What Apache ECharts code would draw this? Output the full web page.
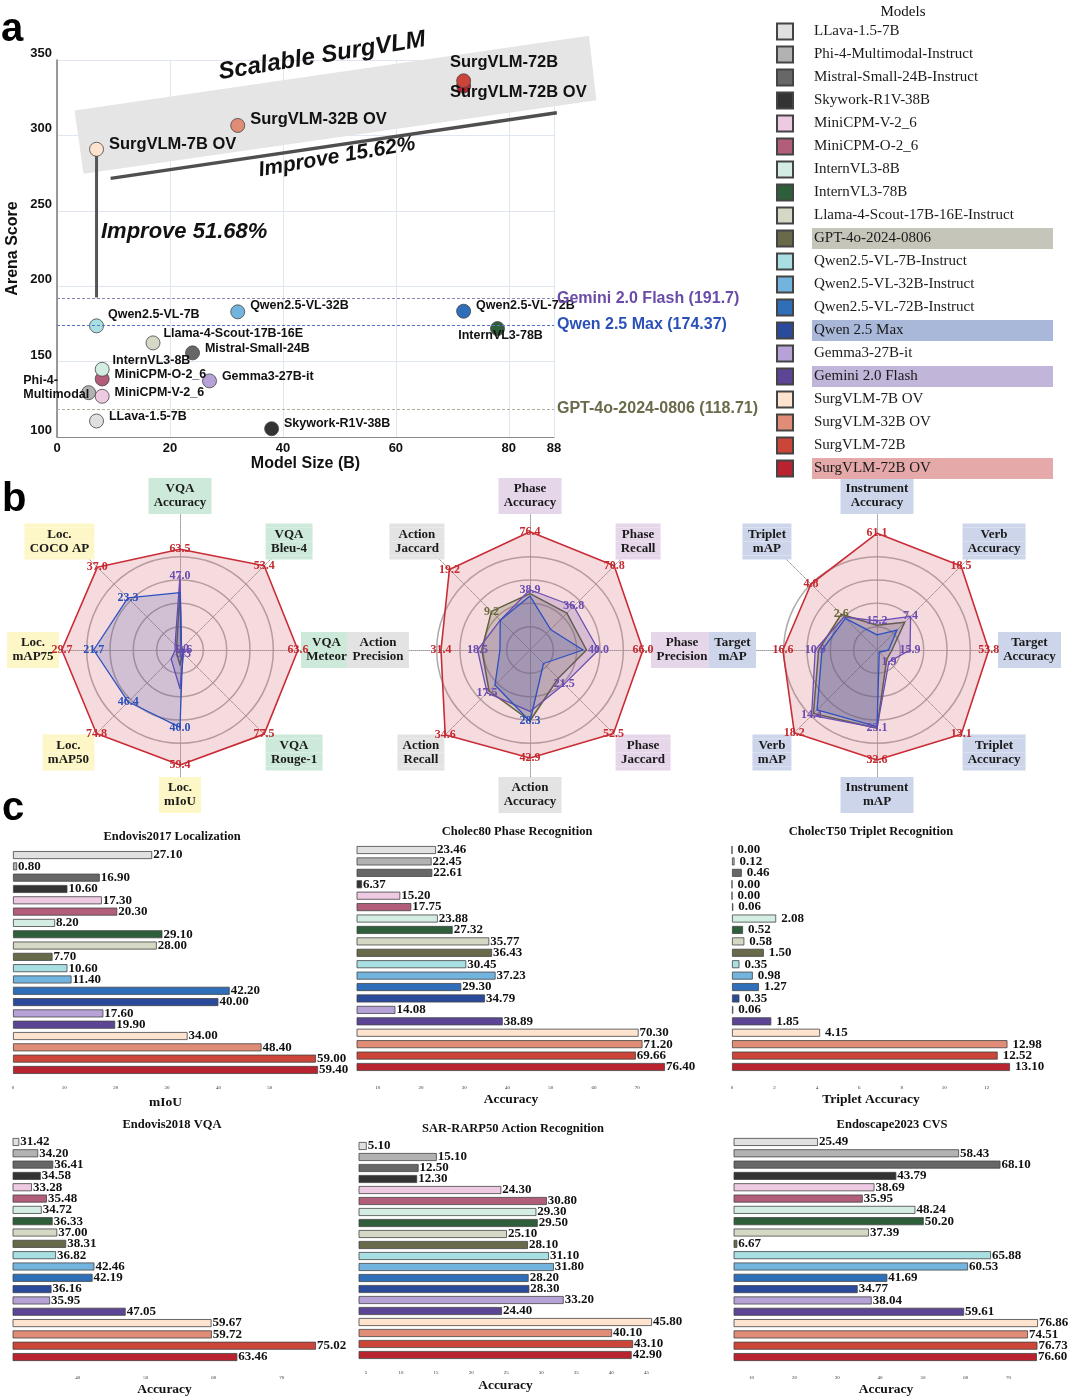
<!DOCTYPE html>
<html><head><meta charset="utf-8">
<script src="https://cdn.jsdelivr.net/npm/echarts@6/dist/echarts.min.js"></script>
<style>html,body{margin:0;padding:0;background:#fff}#c{width:1072px;height:1398px}</style>
</head><body><div id="c"></div>
<script>
// ---------------- DATA ----------------
const models = ['LLava-1.5-7B','Phi-4-Multimodal-Instruct','Mistral-Small-24B-Instruct','Skywork-R1V-38B','MiniCPM-V-2_6','MiniCPM-O-2_6','InternVL3-8B','InternVL3-78B','Llama-4-Scout-17B-16E-Instruct','GPT-4o-2024-0806','Qwen2.5-VL-7B-Instruct','Qwen2.5-VL-32B-Instruct','Qwen2.5-VL-72B-Instruct','Qwen 2.5 Max','Gemma3-27B-it','Gemini 2.0 Flash','SurgVLM-7B OV','SurgVLM-32B OV','SurgVLM-72B','SurgVLM-72B OV'];
const modelColors = ['#e0e0e0','#b2b2b2','#676767','#333333','#eecae2','#b25e7a','#d3ede2','#2f5f3a','#d6d8c6','#696a4a','#a8dfe2','#72b4de','#2f6fba','#2a4b9c','#b6a2d6','#5d4596','#fee3cf','#e08c76','#cb4538','#b8232f'];

// panel a: scatter
const scatterLabels = ['LLava-1.5-7B','Phi-4-\nMultimodal','Mistral-Small-24B','Skywork-R1V-38B','MiniCPM-V-2_6','MiniCPM-O-2_6','InternVL3-8B','InternVL3-78B','Llama-4-Scout-17B-16E',null,'Qwen2.5-VL-7B','Qwen2.5-VL-32B','Qwen2.5-VL-72B',null,'Gemma3-27B-it',null,'SurgVLM-7B OV','SurgVLM-32B OV','SurgVLM-72B','SurgVLM-72B OV'];
const modelSizeB = [7,5.6,24,38,8,8,8,78,17,null,7,32,72,null,27,null,7,32,72,72];
const arenaScore = [110.6,129.4,155.8,105.5,127.0,138.5,144.9,171.9,162.4,null,173.7,183.0,183.4,null,137.2,null,290.8,306.6,336.2,332.7];
const refModels = ['GPT-4o-2024-0806','Qwen 2.5 Max','Gemini 2.0 Flash'];
const refScores = [118.71,174.37,191.7];
const bandX = [3.1,94.2,95.5,4.7];
const bandY = [316.5,366,323.3,274.5];
const growthLine = [[9.5,271.5],[88.5,315]];
const jumpLine = [[7,287.5],[7,192.5]];

// panel b: radars (indicators listed counter-clockwise from top)
const radar1Axes = ['VQA\nAccuracy','Loc.\nCOCO AP','Loc.\nmAP75','Loc.\nmAP50','Loc.\nmIoU','VQA\nRouge-1','VQA\nMeteor','VQA\nBleu-4'];
const radar1Max = [88.3,44.3,35.2,88.7,72.3,91.2,75.5,62.8];
const radar1SurgVLM = [63.5,37.0,29.7,74.8,59.4,77.5,63.6,53.4];
const radar1GPT4o = [38.3,1.5,0.8,3.0,7.7,2.5,2.0,0.8];
const radar1Gemini = [47.0,2.2,1.2,8.0,19.9,3.3,2.6,1.0];
const radar1Qwen = [36.2,23.3,21.7,46.4,40.0,2.4,1.8,0.9];

const radar2Axes = ['Phase\nAccuracy','Action\nJaccard','Action\nPrecision','Action\nRecall','Action\nAccuracy','Phase\nJaccard','Phase\nPrecision','Phase\nRecall'];
const radar2Max = [90.4,23.6,49.4,40.4,55.6,62.3,81.8,83.3];
const radar2SurgVLM = [76.4,19.2,31.4,34.6,42.9,52.5,66.0,70.8];
const radar2GPT4o = [36.4,9.2,17.0,16.7,28.1,17.8,33.0,31.0];
const radar2Gemini = [38.9,7.1,18.5,17.5,24.4,21.5,40.0,36.8];
const radar2Qwen = [34.8,7.1,10.6,14.3,28.3,8.5,31.0,17.3];

const radar3Axes = ['Instrument\nAccuracy','Triplet\nmAP','Target\nmAP','Verb\nmAP','Instrument\nmAP','Triplet\nAccuracy','Target\nAccuracy','Verb\nAccuracy'];
const radar3Max = [73.3,7.2,24.7,21.8,41.5,15.4,67.4,21.8];
const radar3SurgVLM = [61.1,4.8,16.6,18.2,32.6,13.1,53.8,18.5];
const radar3GPT4o = [13.0,2.6,10.3,14.0,23.2,1.5,7.2,6.1];
const radar3Gemini = [15.2,2.4,10.9,14.4,23.1,1.85,15.9,7.4];
const radar3Qwen = [7.9,2.3,9.7,13.2,22.7,0.35,5.6,4.4];

// panel c: bars (one value per model, legend order)
const barTitles = ['Endovis2017 Localization','Cholec80 Phase Recognition','CholecT50 Triplet Recognition','Endovis2018 VQA','SAR-RARP50 Action Recognition','Endoscape2023 CVS'];
const barAxisNames = ['mIoU','Accuracy','Triplet Accuracy','Accuracy','Accuracy','Accuracy'];
const endovis2017 = [27.10,0.80,16.90,10.60,17.30,20.30,8.20,29.10,28.00,7.70,10.60,11.40,42.20,40.00,17.60,19.90,34.00,48.40,59.00,59.40];
const cholec80 = [23.46,22.45,22.61,6.37,15.20,17.75,23.88,27.32,35.77,36.43,30.45,37.23,29.30,34.79,14.08,38.89,70.30,71.20,69.66,76.40];
const cholecT50 = [0.00,0.12,0.46,0.00,0.00,0.06,2.08,0.52,0.58,1.50,0.35,0.98,1.27,0.35,0.06,1.85,4.15,12.98,12.52,13.10];
const endovis2018 = [31.42,34.20,36.41,34.58,33.28,35.48,34.72,36.33,37.00,38.31,36.82,42.46,42.19,36.16,35.95,47.05,59.67,59.72,75.02,63.46];
const sarRarp50 = [5.10,15.10,12.50,12.30,24.30,30.80,29.30,29.50,25.10,28.10,31.10,31.80,28.20,28.30,33.20,24.40,45.80,40.10,43.10,42.90];
const endoscape2023 = [25.49,58.43,68.10,43.79,38.69,35.95,48.24,50.20,37.39,6.67,65.88,60.53,41.69,34.77,38.04,59.61,76.86,74.51,76.73,76.60];

// ---------------- STYLE / LAYOUT ----------------
const SANS = 'Liberation Sans';
const SERIF = 'Liberation Serif';
const highlightModels = ['GPT-4o-2024-0806','Qwen 2.5 Max','Gemini 2.0 Flash','SurgVLM-72B OV'];
const highlightColors = ['#c5c5b9','#a9b7d9','#c1b5d9','#e5a9a9'];
const refLineColors = ['#b0b0a0','#5a70c4','#8c84b4'];
const refTextColors = ['#6b6b4b','#2b51b8','#6a4ba8'];

const pointLabel = {
  'LLava-1.5-7B':{pos:'right',off:[0,-4]},
  'Phi-4-Multimodal-Instruct':{pos:'left',off:[-53,-5],align:'left'},
  'Mistral-Small-24B-Instruct':{pos:'right',off:[0,-4]},
  'Skywork-R1V-38B':{pos:'right',off:[0,-5]},
  'MiniCPM-V-2_6':{pos:'right',off:[0,-4]},
  'MiniCPM-O-2_6':{pos:'right',off:[0,-4]},
  'InternVL3-8B':{pos:'right',off:[-2,-9]},
  'InternVL3-78B':{pos:'inside',off:[3,7]},
  'Llama-4-Scout-17B-16E-Instruct':{pos:'right',off:[-2,-9]},
  'Qwen2.5-VL-7B-Instruct':{pos:'right',off:[-1,-11]},
  'Qwen2.5-VL-32B-Instruct':{pos:'right',off:[0,-6]},
  'Qwen2.5-VL-72B-Instruct':{pos:'right',off:[0,-6]},
  'Gemma3-27B-it':{pos:'right',off:[0,-4]},
  'SurgVLM-7B OV':{pos:'right',off:[0,-5],big:true},
  'SurgVLM-32B OV':{pos:'right',off:[0,-6],big:true},
  'SurgVLM-72B':{pos:'right',off:[-26,-18],big:true},
  'SurgVLM-72B OV':{pos:'right',off:[-26,6],big:true}
};

const radarCenters = [[180,650],[530,650],[877,650]];
const radarStyles = {
  'SurgVLM-72B OV':{line:'#c8232d',area:'rgba(214,112,124,0.36)',label:'#c42a30',w:1.6},
  'GPT-4o-2024-0806':{line:'#5e5e3a',area:'rgba(105,105,72,0.34)',label:'#6b6b3c',w:1.5},
  'Gemini 2.0 Flash':{line:'#6b4cb5',area:'rgba(112,84,172,0.30)',label:'#6a4bb0',w:1.3},
  'Qwen 2.5 Max':{line:'#2c50c4',area:'rgba(60,80,170,0.28)',label:'#2c4fb8',w:1.3}
};
const radarLabelIdx = [
  {'SurgVLM-72B OV':[0,1,2,3,4,5,6,7],'GPT-4o-2024-0806':[],'Gemini 2.0 Flash':[0,5,6,7],'Qwen 2.5 Max':[1,2,3,4]},
  {'SurgVLM-72B OV':[0,1,2,3,4,5,6,7],'GPT-4o-2024-0806':[1],'Gemini 2.0 Flash':[0,2,3,5,6,7],'Qwen 2.5 Max':[4]},
  {'SurgVLM-72B OV':[0,1,2,3,4,5,6,7],'GPT-4o-2024-0806':[1],'Gemini 2.0 Flash':[0,2,3,4,5,6,7],'Qwen 2.5 Max':[]}
];
const groupColors = {VQA:'#cde9d9','Loc.':'#fdf6c6',Phase:'#e6d6ea',Action:'#e3e3e3'};
const radar3Color = '#cdd5ea';
// transparent spacer (px) added below (+) or above (-) each name box, per axis position
const nameSpacer = [15,46,0,-34,-6,-34,0,46];

const barLayouts = [
  {left:13,top:849.4,width:305,height:226.2,min:0,max:59.4,tx:167,ty:833,margin:10,gap:20,showMin:true,split:5},
  {left:357,top:844.3,width:308,height:228.4,min:5.2,max:76.4,tx:512,ty:828,margin:12,gap:20,showMin:false,split:5},
  {left:732,top:844.3,width:278,height:228.4,min:0,max:13.1,tx:866,ty:828,margin:12,gap:20,showMin:true,split:6},
  {left:13,top:1136.3,width:303,height:226.4,min:30.5,max:75.02,tx:167,ty:1121,margin:12,gap:20,showMin:false,split:5},
  {left:359,top:1140.5,width:293,height:220,min:4,max:45.8,tx:508,ty:1125,margin:10,gap:18,showMin:false,split:9},
  {left:734,top:1136.3,width:304,height:226.4,min:5.9,max:76.86,tx:887,ty:1121,margin:12,gap:20,showMin:false,split:6}
];
const barData = [endovis2017,cholec80,cholecT50,endovis2018,sarRarp50,endoscape2023];

// ---------------- BUILD ----------------
const chart = echarts.init(document.getElementById('c'));
const mctx = document.createElement('canvas').getContext('2d');
mctx.font = 'bold 13px ' + SERIF;

const grids = [{left:57,top:60,width:497,height:377}];
const xAxes = [{type:'value',gridIndex:0,min:0,max:88,interval:20,
  axisLine:{show:true,lineStyle:{color:'#8a8a8a',width:1.2}},axisTick:{show:false},
  splitLine:{show:true,lineStyle:{color:'#dfe6f0',width:1}},
  axisLabel:{color:'#111',fontFamily:SANS,fontWeight:'bold',fontSize:13,margin:5},
  name:'Model Size (B)',nameLocation:'middle',nameGap:16,
  nameTextStyle:{color:'#111',fontFamily:SANS,fontWeight:'bold',fontSize:16}}];
const yAxes = [{type:'value',gridIndex:0,min:100,max:350,interval:50,
  axisLine:{show:true,lineStyle:{color:'#7a7a7a',width:1.5}},axisTick:{show:false},
  splitLine:{show:true,lineStyle:{color:'#dfe6f0',width:1}},
  axisLabel:{color:'#111',fontFamily:SANS,fontWeight:'bold',fontSize:13,margin:5,verticalAlign:'bottom'},
  name:'Arena Score',nameLocation:'middle',nameGap:36,
  nameTextStyle:{color:'#111',fontFamily:SANS,fontWeight:'bold',fontSize:16}}];
const series = [];
const titles = [{text:'Models',left:898,top:0,textAlign:'center',textStyle:{fontFamily:SERIF,fontWeight:'normal',fontSize:15,color:'#111'}}];

// band + lines
series.push({type:'custom',xAxisIndex:0,yAxisIndex:0,clip:false,silent:true,z:1,data:[[bandX[0],bandY[0]]],
  renderItem:(p,api)=>({type:'polygon',shape:{points:bandX.map((x,k)=>api.coord([x,bandY[k]]))},style:{fill:'#e5e5e5'}})});
series.push({type:'line',xAxisIndex:0,yAxisIndex:0,data:growthLine,symbol:'none',silent:true,z:2,lineStyle:{color:'#4f4f4f',width:3.5}});
series.push({type:'line',xAxisIndex:0,yAxisIndex:0,data:jumpLine,symbol:'none',silent:true,z:2,lineStyle:{color:'#555',width:3}});

models.forEach((m,i)=>{
  const s = {type:'scatter',name:m,xAxisIndex:0,yAxisIndex:0,symbolSize:14,z:(m==='SurgVLM-72B'?5:4),
    itemStyle:{color:modelColors[i],borderColor:'#444',borderWidth:0.8,opacity:1},data:[]};
  if (modelSizeB[i] != null) {
    s.data = [[modelSizeB[i],arenaScore[i]]];
    const pl = pointLabel[m];
    s.label = {show:true,position:pl.pos,offset:pl.off,formatter:scatterLabels[i],color:'#111',
      fontFamily:SANS,fontWeight:'bold',fontSize:pl.big?16.5:12.5,lineHeight:pl.big?18:14};
    if (pl.align) s.label.align = pl.align;
  }
  const ri = refModels.indexOf(m);
  if (ri >= 0) {
    s.markLine = {symbol:'none',silent:true,animation:false,
      lineStyle:{color:refLineColors[ri],type:[3,2],width:1},
      label:{show:true,position:'end',distance:3,formatter:m+' ('+refScores[ri]+')',color:refTextColors[ri],
        fontFamily:SANS,fontWeight:'bold',fontSize:16},
      data:[{yAxis:refScores[ri]}]};
  }
  series.push(s);
});

// radars
const radarAxesAll = [radar1Axes,radar2Axes,radar3Axes];
const radarMaxAll = [radar1Max,radar2Max,radar3Max];
const radarVals = [
  {'SurgVLM-72B OV':radar1SurgVLM,'GPT-4o-2024-0806':radar1GPT4o,'Gemini 2.0 Flash':radar1Gemini,'Qwen 2.5 Max':radar1Qwen},
  {'SurgVLM-72B OV':radar2SurgVLM,'GPT-4o-2024-0806':radar2GPT4o,'Gemini 2.0 Flash':radar2Gemini,'Qwen 2.5 Max':radar2Qwen},
  {'SurgVLM-72B OV':radar3SurgVLM,'GPT-4o-2024-0806':radar3GPT4o,'Gemini 2.0 Flash':radar3Gemini,'Qwen 2.5 Max':radar3Qwen}
];
const radars = radarAxesAll.map((axes,ri)=>{
  const rich = {};
  nameSpacer.forEach((h)=>{ const a=Math.abs(h); if(a>0) rich['sp'+a] = {height:a,lineHeight:a,fontSize:1,width:1,color:'transparent'}; });
  axes.forEach((nm,j)=>{
    const lines = nm.split('\n');
    const w = Math.ceil(Math.max(...lines.map(l=>mctx.measureText(l).width))) + 10;
    const bg = ri===2 ? radar3Color : groupColors[lines[0]];
    rich['t'+j] = {backgroundColor:bg,width:w,align:'center',lineHeight:14,height:14,fontFamily:SERIF,fontWeight:'bold',fontSize:13,color:'#1a1a1a'};
    rich['p'+j] = {backgroundColor:bg,width:w,height:4,lineHeight:4,fontSize:1,color:'transparent'};
  });
  return {center:radarCenters[ri],radius:140,startAngle:90,shape:'circle',splitNumber:6,
    indicator:axes.map((n,j)=>({name:n,min:0,max:radarMaxAll[ri][j]})),
    nameGap:-19,
    axisName:{rich:rich,formatter:(name)=>{
      const j=axes.indexOf(name); const l=name.split('\n');
      let txt='{p'+j+'| }\n{t'+j+'|'+l[0]+'}\n{t'+j+'|'+l[1]+'}\n{p'+j+'| }';
      const h=nameSpacer[j];
      if(h>0) txt = txt+'\n{sp'+h+'| }';
      else if(h<0) txt = '{sp'+(-h)+'| }\n'+txt;
      return txt;}},
    splitLine:{lineStyle:{color:['transparent','#ababab','#ababab','#ababab','#ababab','transparent','transparent'],width:1.5}},
    splitArea:{show:false},
    axisLine:{lineStyle:{color:'#9a9a9a',type:'dotted',width:1}},
    axisTick:{show:false},axisLabel:{show:false}};
});
const radarOrder = ['SurgVLM-72B OV','GPT-4o-2024-0806','Gemini 2.0 Flash','Qwen 2.5 Max'];
radarVals.forEach((vals,ri)=>{
  series.push({type:'radar',radarIndex:ri,symbol:'circle',symbolSize:1,z:3,silent:true,
    data:radarOrder.map(m=>{
      const st = radarStyles[m]; const show = radarLabelIdx[ri][m];
      return {name:m,value:vals[m],
        lineStyle:{color:st.line,width:st.w},areaStyle:{color:st.area},itemStyle:{color:st.line},
        label:{show:true,position:'inside',color:st.label,fontFamily:SERIF,fontWeight:'bold',fontSize:12,
          formatter:(p)=>{const v=p.value; if(Array.isArray(v)) return ''; const k=vals[m].indexOf(v); return show.indexOf(k)>=0 ? v.toFixed(1) : '';}}};
    })});
});

// bars
barLayouts.forEach((L,k)=>{
  const gi = k+1;
  grids.push({left:L.left,top:L.top,width:L.width,height:L.height});
  titles.push({text:barTitles[k],left:L.tx,top:L.ty-8,textAlign:'center',
    textStyle:{fontFamily:SERIF,fontWeight:'bold',fontSize:12.5,color:'#111'}});
  xAxes.push({type:'value',gridIndex:gi,min:L.min,max:L.max,splitNumber:L.split,
    axisLine:{show:false},axisTick:{show:false},splitLine:{show:false},
    axisLabel:{show:true,showMinLabel:L.showMin,showMaxLabel:false,fontFamily:SERIF,fontSize:5,color:'#333',margin:L.margin},
    name:barAxisNames[k],nameLocation:'middle',nameGap:L.gap,
    nameTextStyle:{fontFamily:SERIF,fontWeight:'bold',fontSize:13.5,color:'#111'}});
  yAxes.push({type:'category',gridIndex:gi,data:models,inverse:true,show:false});
  series.push({type:'bar',xAxisIndex:gi,yAxisIndex:gi,data:barData[k],barWidth:8,silent:true,
    itemStyle:{color:(p)=>modelColors[p.dataIndex],borderColor:'#444',borderWidth:0.8},
    label:{show:true,position:'right',distance:k===2?5:1,formatter:(p)=>p.value.toFixed(2),
      fontFamily:SERIF,fontWeight:'bold',fontSize:13,color:'#111'}});
});

// legend
const legendRich = {s:{width:14}};
const legendBase = {fontFamily:SERIF,fontSize:15,color:'#1a1a1a',lineHeight:16,padding:[3,2,3,2],width:237};
legendRich.n = Object.assign({},legendBase);
highlightColors.forEach((c,h)=>{legendRich['h'+h] = Object.assign({},legendBase,{backgroundColor:c});});

const option = {
  animation:false,
  backgroundColor:'#fff',
  title:titles,
  legend:{orient:'vertical',left:771,top:16,itemWidth:16,itemHeight:16,itemGap:2,icon:'rect',
    data:models,selectedMode:false,
    textStyle:{rich:legendRich},
    formatter:(n)=>{const h=highlightModels.indexOf(n);return '{s| }{'+(h>=0?'h'+h:'n')+'|'+n+'}';}},
  grid:grids,xAxis:xAxes,yAxis:yAxes,radar:radars,series:series,
  graphic:[
    {type:'text',x:1,y:30,style:{text:'a',font:'bold 40px '+SANS,fill:'#000',verticalAlign:'middle'}},
    {type:'text',x:2,y:500,style:{text:'b',font:'bold 40px '+SANS,fill:'#000',verticalAlign:'middle'}},
    {type:'text',x:2,y:809,style:{text:'c',font:'bold 40px '+SANS,fill:'#000',verticalAlign:'middle'}},
    {type:'text',x:322,y:56,rotation:0.16,z:10,style:{text:'Scalable SurgVLM',font:'italic bold 24px '+SANS,fill:'#111',align:'center',verticalAlign:'middle'}},
    {type:'text',x:337,y:157,rotation:0.17,z:10,style:{text:'Improve 15.62%',font:'italic bold 21px '+SANS,fill:'#111',align:'center',verticalAlign:'middle'}},
    {type:'text',x:101,y:232,z:10,style:{text:'Improve 51.68%',font:'italic bold 22px '+SANS,fill:'#111',align:'left',verticalAlign:'middle'}}
  ]
};
chart.setOption(option);
</script></body></html>
